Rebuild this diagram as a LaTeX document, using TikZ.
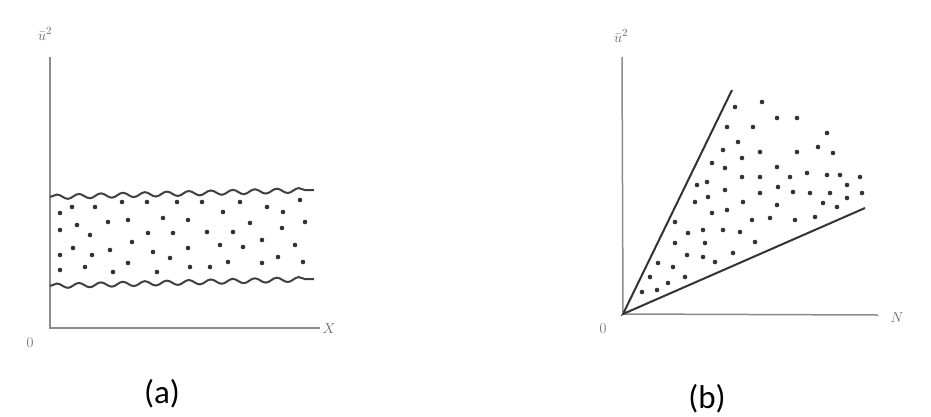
\documentclass[tikz,border=0pt]{standalone}
\usepackage{fontspec}
\newfontfamily\capfont{Carlito}
\usetikzlibrary{decorations.pathmorphing}
\begin{document}
\begin{tikzpicture}[x=1pt,y=-1pt,
 axis/.style={draw=black!45,line width=1.5pt},
 wave/.style={draw=black!75,line width=2pt,decorate,decoration={snake,segment length=22pt,amplitude=2.3pt}},
 edgeline/.style={draw=black!80,line width=2pt},
 dot/.style={fill=black!80},
 lab/.style={text=black!60,font=\fontsize{15}{15}\selectfont,inner sep=0pt},
 captext/.style={font=\capfont\fontsize{33}{33}\selectfont,inner sep=0pt}]
\path[use as bounding box,fill=white] (0,0) rectangle (931,416);
% ---------- panel (a)
\coordinate (oa) at (50,328);
\coordinate (ya) at (50,57);
\coordinate (xa) at (320,328);
\draw[axis] (ya) -- (oa) -- (xa);
\node[lab] (ua) at (45,34) {$\bar{u}^2$};
\node[lab] (za) at (30,343) {0};
\node[lab] (xla) at (329,329) {$X$};
\coordinate (w1s) at (50,197); \coordinate (w1e) at (314,190);
\coordinate (w2s) at (50,286); \coordinate (w2e) at (314,279);
\draw[wave] (w1s) -- (w1e);
\draw[wave] (w2s) -- (w2e);
\foreach \p in {(60,213),(72,207),(95,207),(122,202),(147,202),(177,202),(202,202),(223,212),(240,202),(267,207),(283,212),(300,200),
 (60,230),(77,225),(90,235),(108,222),(128,220),(148,233),(163,218),(173,233),(188,220),(207,232),(233,232),(250,223),(282,228),(305,222),
 (60,255),(73,248),(92,255),(110,250),(132,242),(153,252),(170,258),(188,248),(220,245),(243,247),(262,240),(278,257),(295,245),
 (60,270),(85,267),(113,272),(128,263),(157,272),(190,267),(210,267),(228,262),(262,263),(303,262)}
 \fill[dot] \p circle (2.3pt);
\node[captext] (capa) at (162,394) {(a)};
% ---------- panel (b)
\coordinate (ob) at (623,314);
\coordinate (yb) at (622,57);
\coordinate (xb) at (878,315);
\draw[axis] (yb) -- (ob) -- (xb);
\coordinate (e1) at (732,90);
\coordinate (e2) at (865,208);
\draw[edgeline] (e1) -- (ob) -- (e2);
\node[lab] (ub) at (621,36) {$\bar{u}^2$};
\node[lab] (zb) at (603,329) {0};
\node[lab] (nb) at (897,318) {$N$};
\foreach \p in {(735,107),(762,102),(727,127),(753,127),(777,118),(797,118),(827,133),(738,142),(723,150),(760,152),(797,152),(818,147),(833,153),
 (712,163),(742,158),(777,167),(725,168),(807,173),(827,175),(840,175),(860,177),(697,185),(707,182),(742,177),(760,177),(778,187),(790,177),
 (708,197),(725,190),(743,202),(760,193),(777,205),(793,192),(810,193),(830,193),(847,185),(862,193),(847,198),(823,203),(837,207),
 (695,202),(712,213),(727,210),(752,220),(770,218),(795,220),(815,217),(675,222),(703,230),(723,230),(688,233),(740,232),
 (675,243),(705,243),(755,242),(687,255),(703,257),(715,262),(733,253),(658,263),(673,267),(685,277),(650,277),(668,283),(657,290),(642,292)}
 \fill[dot] \p circle (2.3pt);
\node[captext] (capb) at (707,399) {(b)};
\end{tikzpicture}
\end{document}
